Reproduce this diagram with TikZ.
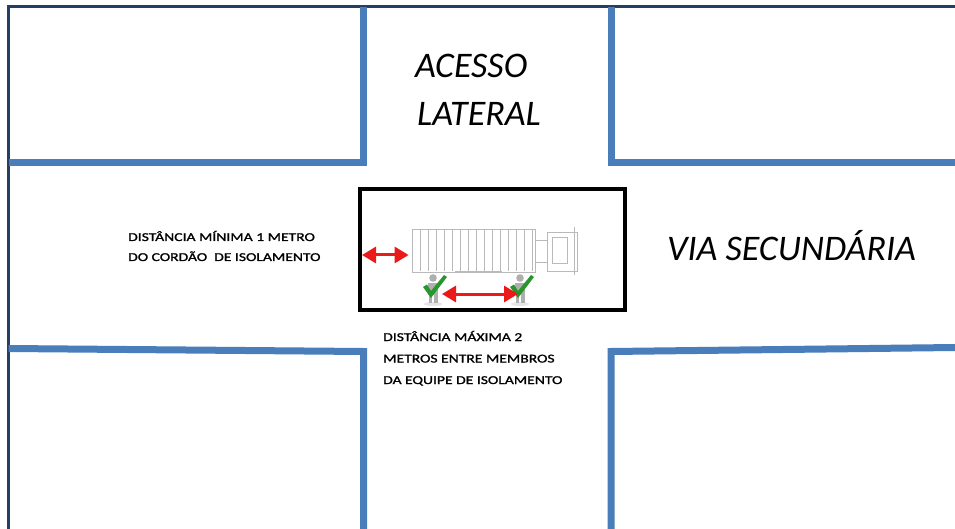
\documentclass[tikz,border=0pt]{standalone}
\usepackage{fontspec}
\setmainfont{Carlito}
\newfontfamily\smallfont[FakeStretch=1.3,FakeBold=1.3]{Carlito}
\usetikzlibrary{arrows.meta}
\definecolor{roadblue}{RGB}{74,126,187}
\definecolor{framenavy}{RGB}{36,62,100}
\definecolor{arrowred}{RGB}{235,25,25}
\definecolor{checkgreen}{RGB}{40,150,45}
\definecolor{truckgray}{RGB}{185,185,185}
\definecolor{persongray}{RGB}{175,175,175}
\begin{document}
\begin{tikzpicture}[x=1pt,y=-1pt,
  road/.style={draw=roadblue,line width=7pt,line join=miter},
  frameline/.style={draw=framenavy,line width=2.5pt},
  bigtext/.style={font=\fontsize{36}{40}\selectfont\itshape,inner sep=0pt,anchor=base west},
  smalltext/.style={font=\smallfont\fontsize{12}{14}\selectfont,inner sep=0pt,anchor=base west},
  truckpart/.style={draw=truckgray,line width=0.8pt,inner sep=0pt},
  scenebox/.style={draw=black,line width=3.5pt,inner sep=0pt},
  redarrow/.style={draw=arrowred,line width=3pt,{Triangle[length=14pt,width=16pt]}-{Triangle[length=14pt,width=16pt]}},
  checkmark/.style={fill=checkgreen},
  personfill/.style={fill=persongray}
]
\useasboundingbox (0,0) rectangle (955,529);
\fill[white] (0,0) rectangle (955,529);
% outer frame
\draw[frameline] (8.7,529) -- (8.7,6.5) -- (955,6.5);
% road edges
\draw[road] (8.7,163) -- (363.5,163) -- (363.5,7.5);
\draw[road] (611,7.5) -- (611,162.5) -- (955,162.5);
\draw[road] (8.7,348.5) -- (363.5,351.5) -- (363.5,529);
\draw[road] (611,529) -- (611,351.5) -- (955,347.5);
% texts
\node[bigtext] (acesso) at (415,78) {ACESSO};
\node[bigtext] (lateral) at (417,126) {LATERAL};
\node[bigtext] (via) at (667,261) {VIA SECUNDÁRIA};
\node[smalltext] (min1) at (128,241) {DISTÂNCIA MÍNIMA 1 METRO};
\node[smalltext] (min2) at (128,261) {DO CORDÃO\ \ DE ISOLAMENTO};
\node[smalltext] (max1) at (383,341) {DISTÂNCIA MÁXIMA 2};
\node[smalltext] (max2) at (383,362.5) {METROS ENTRE MEMBROS};
\node[smalltext] (max3) at (383,384) {DA EQUIPE DE ISOLAMENTO};
% box
\node[scenebox, minimum width=265pt, minimum height=121pt] (box) at (492.5,249.5) {};
% truck
\node[truckpart, minimum width=123pt, minimum height=43pt] (trailer) at (473.5,250.5) {};
\foreach \x in {420,428,...,532} \draw[truckpart,line width=0.5pt] (\x,230) -- (\x,271);
\draw[truckpart,line width=1.4pt] (423,229.5) -- (442,229.5);
\draw[truckpart,line width=1.4pt] (503,229.5) -- (522,229.5);
\draw[truckpart,line width=1.4pt] (455,271.5) -- (502,271.5);
\node[truckpart, minimum width=12pt, minimum height=22pt] (hitch) at (541,251) {};
\node[truckpart, minimum width=30pt, minimum height=39pt] (cab) at (562,251.5) {};
\node[truckpart, minimum width=15pt, minimum height=26pt] (windshield) at (560,250) {};
\draw[truckpart] (574,227) -- (574,275);
% persons
\coordinate (p1) at (433,278);
\coordinate (p2) at (520,278);
\foreach \p in {p1,p2} {
  \fill[gray!20] ([shift={(0,26)}]\p) ellipse (9pt and 2pt);
  \fill[personfill] (\p) circle (3.8pt);
  \fill[personfill] ([shift={(-5,5)}]\p) rectangle ([shift={(5,17)}]\p);
  \fill[personfill] ([shift={(-4.5,17)}]\p) rectangle ([shift={(-1,25)}]\p);
  \fill[personfill] ([shift={(1,17)}]\p) rectangle ([shift={(4.5,25)}]\p);
  \fill[checkmark] ([shift={(-10,9)}]\p) -- ([shift={(-6,6.5)}]\p) -- ([shift={(-2,13)}]\p)
     -- ([shift={(11,-3)}]\p) -- ([shift={(14,-1)}]\p) -- ([shift={(-2,20)}]\p) -- cycle;
}
% arrows
\coordinate (la) at (362,255);
\draw[redarrow] (la) -- ([xshift=-3pt]trailer.west |- la);
\coordinate (ba1) at (442,294);
\coordinate (ba2) at (518,294);
\draw[redarrow] (ba1) -- (ba2);
\end{tikzpicture}
\end{document}
